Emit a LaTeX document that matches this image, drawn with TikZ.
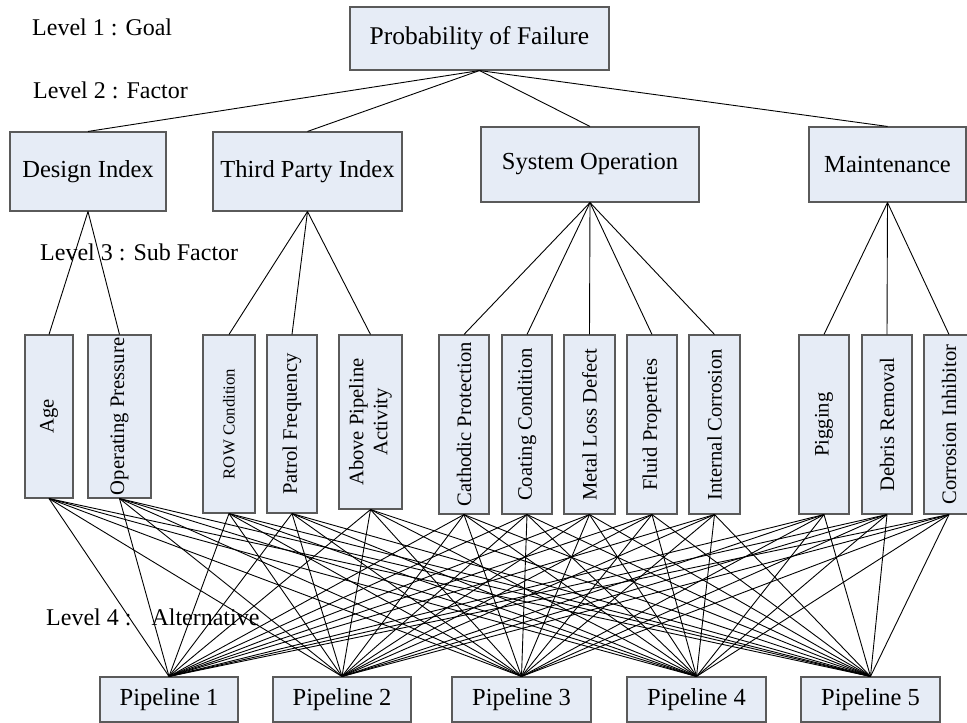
\documentclass[tikz,border=0pt]{standalone}
\usepackage{fontspec}
\setmainfont{Liberation Serif}
\definecolor{boxfill}{HTML}{E6ECF6}
\definecolor{boxline}{HTML}{5A5A5A}
\begin{document}
\begin{tikzpicture}[x=1pt,y=-1pt,
  box/.style={draw=boxline, fill=boxfill, line width=1.1pt, inner sep=0pt,
    font=\fontsize{24.5}{28}\selectfont},
  subbox/.style={box, font=\fontsize{20.6}{24}\selectfont},
  lvl/.style={anchor=base west, inner sep=0pt, font=\fontsize{24}{28}\selectfont},
  link/.style={line width=0.9pt, black}]
\fill[white] (0,0) rectangle (967,723);
\useasboundingbox (0,0) rectangle (967,723);

% Level labels
\node[lvl] (l1) at (32,35) {Level 1 : Goal};
\node[lvl] (l2) at (33,98) {Level 2 : Factor};
\node[lvl] (l3) at (40,260) {Level 3 : Sub Factor};
\node[lvl] (l4) at (46,625) {Level 4 :\hspace{20pt}Alternative};

% Level 1: goal
\node[box, minimum width=259, minimum height=63, font=\fontsize{25.5}{30}\selectfont] (goal) at (479.5,38.5) {Probability of Failure};

% Level 2: factors
\node[box, minimum width=156, minimum height=79] (design) at (88,171.5) {Design Index};
\node[box, minimum width=189, minimum height=79] (third) at (307.5,171.5) {Third Party Index};
\node[box, minimum width=218, minimum height=75] (sysop) at (590,164.5) {System Operation};
\node[box, minimum width=157, minimum height=75] (maint) at (887.5,164.5) {Maintenance};

% Level 3: sub factors
\node[subbox, minimum width=48, minimum height=163] (age) at (49,416.5) {\rotatebox{90}{Age}};
\node[subbox, minimum width=63, minimum height=163] (opp) at (119.5,416.5) {\rotatebox{90}{Operating Pressure}};
\node[subbox, minimum width=52, minimum height=178, font=\fontsize{16.8}{20}\selectfont] (row) at (229,424) {\rotatebox{90}{ROW Condition}};
\node[subbox, minimum width=50, minimum height=178] (patrol) at (292,424) {\rotatebox{90}{Patrol Frequency}};
\node[subbox, minimum width=63, minimum height=174] (above) at (370.5,422) {\rotatebox{90}{\begin{tabular}{@{}c@{}}Above Pipeline\\Activity\end{tabular}}};
\node[subbox, minimum width=50, minimum height=179] (cathodic) at (464,424.5) {\rotatebox{90}{Cathodic Protection}};
\node[subbox, minimum width=50, minimum height=179] (coating) at (527,424.5) {\rotatebox{90}{Coating Condition}};
\node[subbox, minimum width=51, minimum height=179] (metal) at (589.5,424.5) {\rotatebox{90}{Metal Loss Defect}};
\node[subbox, minimum width=50, minimum height=179] (fluid) at (652,424.5) {\rotatebox{90}{Fluid Properties}};
\node[subbox, minimum width=51, minimum height=179] (internal) at (714.5,424.5) {\rotatebox{90}{Internal Corrosion}};
\node[subbox, minimum width=50, minimum height=179] (pigging) at (824,424.5) {\rotatebox{90}{Pigging}};
\node[subbox, minimum width=50, minimum height=179] (debris) at (887,424.5) {\rotatebox{90}{Debris Removal}};
\node[subbox, minimum width=50, minimum height=179] (inhib) at (949,424.5) {\rotatebox{90}{Corrosion Inhibitor}};

% Level 4: alternatives
\node[box, minimum width=138, minimum height=45] (p1) at (169,699.5) {Pipeline 1};
\node[box, minimum width=138, minimum height=45] (p2) at (342,699.5) {Pipeline 2};
\node[box, minimum width=139, minimum height=45] (p3) at (521.5,699.5) {Pipeline 3};
\node[box, minimum width=139, minimum height=45] (p4) at (696.5,699.5) {Pipeline 4};
\node[box, minimum width=139, minimum height=45] (p5) at (870.5,699.5) {Pipeline 5};

% Goal to factors
\foreach \f in {design,third,sysop,maint}
  \draw[link] (goal.south) -- (\f.north);

% Factors to sub factors
\foreach \s in {age,opp} \draw[link] (design.south) -- (\s.north);
\foreach \s in {row,patrol,above} \draw[link] (third.south) -- (\s.north);
\foreach \s in {cathodic,coating,metal,fluid,internal} \draw[link] (sysop.south) -- (\s.north);
\foreach \s in {pigging,debris,inhib} \draw[link] (maint.south) -- (\s.north);

% Sub factors to every alternative
\foreach \s in {age,opp,row,patrol,above,cathodic,coating,metal,fluid,internal,pigging,debris,inhib}
  \foreach \p in {p1,p2,p3,p4,p5}
    \draw[link] (\s.south) -- (\p.north);
\end{tikzpicture}
\end{document}
